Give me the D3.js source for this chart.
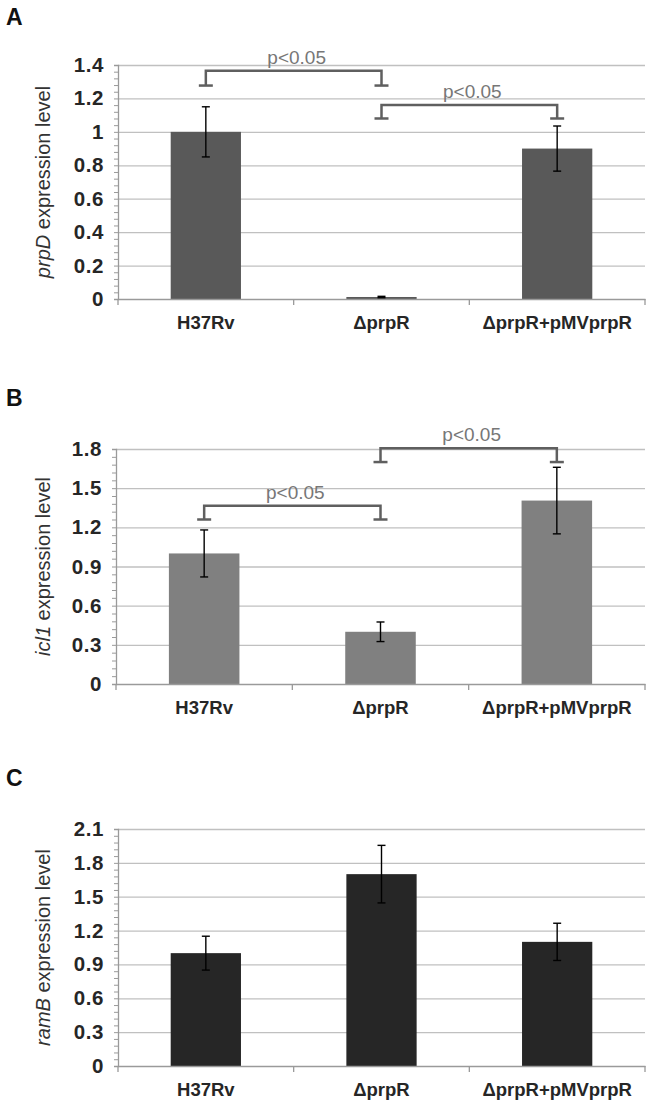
<!DOCTYPE html>
<html>
<head>
<meta charset="utf-8">
<script src="https://cdn.jsdelivr.net/npm/d3@7"></script>
<style>
  body { margin: 0; background: #fff; }
  svg text { font-family: "Liberation Sans", Arial, sans-serif; }
</style>
</head>
<body>
<div id="chart"></div>
<script>
// ***************************** DATA *****************************
var categories = ["H37Rv", "\u0394prpR", "\u0394prpR+pMVprpR"];
var panelLetters = ["A", "B", "C"];
var genes = ["prpD", "icl1", "ramB"];

// prpD (panel A)
var prpDMeans = [1.0, 0.012, 0.9];
var prpDErrors = [0.15, 0.004, 0.135];
var prpDTicks = [0, 0.2, 0.4, 0.6, 0.8, 1, 1.2, 1.4];
var prpDTickLabels = ["0", "0.2", "0.4", "0.6", "0.8", "1", "1.2", "1.4"];
// [from, to, top value, drop value]
var prpDBrackets = [[0, 1, 1.365, 1.277], [1, 2, 1.16, 1.08]];

// icl1 (panel B)
var icl1Means = [1.0, 0.4, 1.405];
var icl1Errors = [0.18, 0.075, 0.255];
var icl1Ticks = [0, 0.3, 0.6, 0.9, 1.2, 1.5, 1.8];
var icl1TickLabels = ["0", "0.3", "0.6", "0.9", "1.2", "1.5", "1.8"];
var icl1Brackets = [[0, 1, 1.365, 1.26], [1, 2, 1.805, 1.70]];

// ramB (panel C)
var ramBMeans = [1.0, 1.7, 1.1];
var ramBErrors = [0.15, 0.255, 0.165];
var ramBTicks = [0, 0.3, 0.6, 0.9, 1.2, 1.5, 1.8, 2.1];
var ramBTickLabels = ["0", "0.3", "0.6", "0.9", "1.2", "1.5", "1.8", "2.1"];
var ramBBrackets = [];

var pLabel = "p<0.05";

// ************************** CANVAS SET UP ************************
var svgWidth = 652, svgHeight = 1104;

var svg = d3.select("#chart")
  .append("svg")
    .attr("width", svgWidth)
    .attr("height", svgHeight);

// per panel layout
var panels = [
  {letter: panelLetters[0], gene: genes[0], means: prpDMeans, errors: prpDErrors,
   ticks: prpDTicks, tickLabels: prpDTickLabels, brackets: prpDBrackets,
   color: "#595959", left: 118, top: 65, bottom: 299, letterY: 25},
  {letter: panelLetters[1], gene: genes[1], means: icl1Means, errors: icl1Errors,
   ticks: icl1Ticks, tickLabels: icl1TickLabels, brackets: icl1Brackets,
   color: "#808080", left: 116, top: 449, bottom: 684, letterY: 406},
  {letter: panelLetters[2], gene: genes[2], means: ramBMeans, errors: ramBErrors,
   ticks: ramBTicks, tickLabels: ramBTickLabels, brackets: ramBBrackets,
   color: "#262626", left: 118, top: 829, bottom: 1066, letterY: 786}
];

var plotRight = 645;

panels.forEach(function(p) {
  var g = svg.append("g");

  // panel letter
  g.append("text")
    .attr("x", 6)
    .attr("y", p.letterY)
    .attr("font-size", 23)
    .attr("font-weight", "bold")
    .attr("fill", "#111")
    .text(p.letter);

  // ******************************* SCALES *******************************
  var x = d3.scaleBand()
    .domain(categories)
    .range([p.left, plotRight])
    .padding(0);

  var yMax = p.ticks[p.ticks.length - 1];
  var y = d3.scaleLinear()
    .domain([0, yMax])
    .range([p.bottom, p.top]);

  // gridlines
  g.append("g")
    .attr("transform", `translate(${p.left},0)`)
    .call(d3.axisLeft(y).tickValues(p.ticks.slice(1)).tickSize(-(plotRight - p.left)).tickFormat(""))
    .call(function(s) {
      s.select(".domain").remove();
      s.selectAll("line").attr("stroke", "#c0c0c0").attr("stroke-width", 1.3);
    });

  // minor ticks (5 per major interval)
  var step = p.ticks[1] - p.ticks[0];
  var minor = d3.range(0, 5 * (p.ticks.length - 1) + 1).map(function(i) { return i * step / 5; });
  g.append("g")
    .attr("transform", `translate(${p.left},0)`)
    .call(d3.axisLeft(y).tickValues(minor).tickSize(4).tickFormat(""))
    .call(function(s) {
      s.select(".domain").attr("stroke", "#9a9a9a").attr("stroke-width", 1.3);
      s.selectAll("line").attr("stroke", "#9a9a9a");
    });

  // tick labels
  g.append("g")
    .attr("transform", `translate(${p.left},0)`)
    .call(d3.axisLeft(y).tickValues(p.ticks).tickSize(0).tickPadding(14)
      .tickFormat(function(d, i) { return p.tickLabels[i]; }))
    .call(function(s) {
      s.select(".domain").remove();
      s.selectAll("text")
        .attr("font-family", "Liberation Sans, Arial, sans-serif")
        .attr("font-size", 20.5)
        .attr("font-weight", "bold")
        .attr("letter-spacing", 0.6)
        .attr("fill", "#262626");
    });

  // y label
  var yl = g.append("text")
    .attr("transform", `translate(50,${(p.top + p.bottom) / 2}) rotate(-90)`)
    .attr("text-anchor", "middle")
    .attr("font-size", 20)
    .attr("fill", "#333");
  yl.append("tspan").attr("font-style", "italic").text(p.gene);
  yl.append("tspan").text(" expression level");

  // ******************************* BARS *******************************
  var barW = x.bandwidth() * 0.4;
  var data = categories.map(function(c, i) { return {cat: c, mean: p.means[i], err: p.errors[i]}; });

  g.selectAll("rect.bar")
    .data(data)
    .enter()
    .append("rect")
      .attr("class", "bar")
      .attr("x", d => x(d.cat) + (x.bandwidth() - barW) / 2)
      .attr("width", barW)
      .attr("y", d => y(d.mean))
      .attr("height", d => y(0) - y(d.mean))
      .attr("fill", p.color);

  // x axis with category separators
  g.append("g")
    .attr("transform", `translate(0,${p.bottom})`)
    .call(d3.axisBottom(x).tickSize(0).tickPadding(17))
    .call(function(s) {
      s.select(".domain").attr("stroke", "#9a9a9a").attr("stroke-width", 1.3);
      s.selectAll("text")
        .attr("font-family", "Liberation Sans, Arial, sans-serif")
        .attr("font-size", 18.5)
        .attr("font-weight", "bold")
        .attr("fill", "#262626");
    });

  var seps = x.domain().map(function(c) { return x(c); }).concat([plotRight]);
  g.selectAll("line.sep")
    .data(seps)
    .enter()
    .append("line")
      .attr("x1", d => d).attr("x2", d => d)
      .attr("y1", p.bottom).attr("y2", p.bottom + 6)
      .attr("stroke", "#9a9a9a")
      .attr("stroke-width", 1.3);

  // error bars
  var cx = function(d) { return x(d.cat) + x.bandwidth() / 2; };
  var eb = g.selectAll("g.err")
    .data(data)
    .enter()
    .append("g")
      .attr("stroke", "#000")
      .attr("stroke-width", 1.4);
  eb.append("line")
    .attr("x1", cx).attr("x2", cx)
    .attr("y1", d => y(d.mean + d.err)).attr("y2", d => y(d.mean - d.err));
  eb.append("line")
    .attr("x1", d => cx(d) - 4).attr("x2", d => cx(d) + 4)
    .attr("y1", d => y(d.mean + d.err)).attr("y2", d => y(d.mean + d.err));
  eb.append("line")
    .attr("x1", d => cx(d) - 4).attr("x2", d => cx(d) + 4)
    .attr("y1", d => y(d.mean - d.err)).attr("y2", d => y(d.mean - d.err));

  // significance brackets
  p.brackets.forEach(function(b) {
    var x1 = x(categories[b[0]]) + x.bandwidth() / 2;
    var x2 = x(categories[b[1]]) + x.bandwidth() / 2;
    var yt = y(b[2]), yd = y(b[3]);
    var bg = g.append("g")
      .attr("stroke", "#5f5f5f")
      .attr("stroke-width", 2.5)
      .attr("fill", "none");
    bg.append("path")
      .attr("d", `M${x1},${yd} V${yt} H${x2} V${yd}`);
    bg.append("line").attr("x1", x1 - 7).attr("x2", x1 + 7).attr("y1", yd).attr("y2", yd);
    bg.append("line").attr("x1", x2 - 7).attr("x2", x2 + 7).attr("y1", yd).attr("y2", yd);
    g.append("text")
      .attr("x", (x1 + x2) / 2 + 3)
      .attr("y", yt - 7)
      .attr("text-anchor", "middle")
      .attr("font-size", 19)
      .attr("fill", "#777")
      .text(pLabel);
  });
});
</script>
</body>
</html>
